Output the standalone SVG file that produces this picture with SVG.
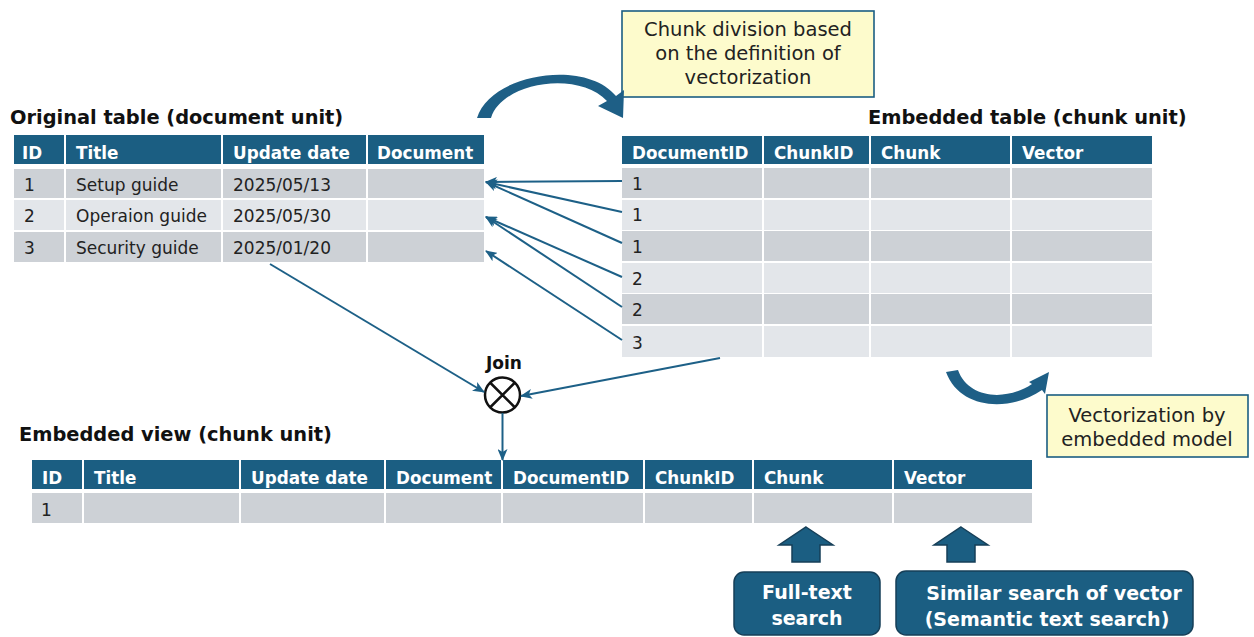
<svg xmlns="http://www.w3.org/2000/svg" width="1254" height="637" viewBox="0 0 1254 637">
<style>
text{font-family:"DejaVu Sans","Verdana",sans-serif}
.hd{fill:#1b5e82}
.dk{fill:#cdd1d6}
.lt{fill:#e3e6ea}
.ht{fill:#fff;font-weight:bold;font-size:16.8px}
.bt{fill:#222;font-size:17px}
.tt{fill:#111;font-weight:bold;font-size:19.4px}
.con{stroke:#1d6087;stroke-width:2;fill:none}
.note{fill:#fdfbcc;stroke:#1b5e82;stroke-width:1.6}
.nt{fill:#222;font-size:19.5px;text-anchor:middle}
.band{fill:#1e5f86}
.blk{fill:#1b5e82;stroke:#163f58;stroke-width:1.5}
.bw{fill:#fff;font-weight:bold;font-size:19px;text-anchor:middle}
</style>
<defs>
<marker id="ah" markerWidth="12" markerHeight="10" refX="11" refY="5" orient="auto" markerUnits="userSpaceOnUse">
<path d="M0,0 L12,5 L0,10 L3,5 Z" fill="#1d6087"/>
</marker>
</defs>

<g id="original-table">
<text class="tt" x="10" y="124">Original table (document unit)</text>
<rect class="hd" x="14" y="135" width="50" height="29"/>
<rect class="hd" x="66" y="135" width="155" height="29"/>
<rect class="hd" x="223" y="135" width="143" height="29"/>
<rect class="hd" x="368" y="135" width="116" height="29"/>
<text class="ht" x="22" y="159">ID</text>
<text class="ht" x="76" y="159">Title</text>
<text class="ht" x="233" y="159">Update date</text>
<text class="ht" x="377" y="159">Document</text>
<rect class="dk" x="14" y="169" width="50" height="29"/>
<rect class="dk" x="66" y="169" width="155" height="29"/>
<rect class="dk" x="223" y="169" width="143" height="29"/>
<rect class="dk" x="368" y="169" width="116" height="29"/>
<rect class="lt" x="14" y="200" width="50" height="30"/>
<rect class="lt" x="66" y="200" width="155" height="30"/>
<rect class="lt" x="223" y="200" width="143" height="30"/>
<rect class="lt" x="368" y="200" width="116" height="30"/>
<rect class="dk" x="14" y="232" width="50" height="30"/>
<rect class="dk" x="66" y="232" width="155" height="30"/>
<rect class="dk" x="223" y="232" width="143" height="30"/>
<rect class="dk" x="368" y="232" width="116" height="30"/>
<text class="bt" x="24" y="191">1</text>
<text class="bt" x="76" y="191">Setup guide</text>
<text class="bt" x="233" y="191">2025/05/13</text>
<text class="bt" x="24" y="222">2</text>
<text class="bt" x="76" y="222">Operaion guide</text>
<text class="bt" x="233" y="222">2025/05/30</text>
<text class="bt" x="24" y="254">3</text>
<text class="bt" x="76" y="254">Security guide</text>
<text class="bt" x="233" y="254">2025/01/20</text>
</g>

<g id="embedded-table">
<text class="tt" x="868" y="124">Embedded table (chunk unit)</text>
<rect class="hd" x="622" y="136" width="140" height="28"/>
<rect class="hd" x="764" y="136" width="105" height="28"/>
<rect class="hd" x="871" y="136" width="139" height="28"/>
<rect class="hd" x="1012" y="136" width="140" height="28"/>
<text class="ht" x="632" y="159">DocumentID</text>
<text class="ht" x="774" y="159">ChunkID</text>
<text class="ht" x="881" y="159">Chunk</text>
<text class="ht" x="1022" y="159">Vector</text>
<g class="dk">
<rect x="622" y="168" width="140" height="30"/><rect x="764" y="168" width="105" height="30"/><rect x="871" y="168" width="139" height="30"/><rect x="1012" y="168" width="140" height="30"/>
<rect x="622" y="231" width="140" height="30"/><rect x="764" y="231" width="105" height="30"/><rect x="871" y="231" width="139" height="30"/><rect x="1012" y="231" width="140" height="30"/>
<rect x="622" y="294" width="140" height="30"/><rect x="764" y="294" width="105" height="30"/><rect x="871" y="294" width="139" height="30"/><rect x="1012" y="294" width="140" height="30"/>
</g>
<g class="lt">
<rect x="622" y="200" width="140" height="30"/><rect x="764" y="200" width="105" height="30"/><rect x="871" y="200" width="139" height="30"/><rect x="1012" y="200" width="140" height="30"/>
<rect x="622" y="263" width="140" height="30"/><rect x="764" y="263" width="105" height="30"/><rect x="871" y="263" width="139" height="30"/><rect x="1012" y="263" width="140" height="30"/>
<rect x="622" y="326" width="140" height="31"/><rect x="764" y="326" width="105" height="31"/><rect x="871" y="326" width="139" height="31"/><rect x="1012" y="326" width="140" height="31"/>
</g>
<text class="bt" x="632" y="190">1</text>
<text class="bt" x="632" y="221">1</text>
<text class="bt" x="632" y="253">1</text>
<text class="bt" x="632" y="285">2</text>
<text class="bt" x="632" y="316">2</text>
<text class="bt" x="632" y="349">3</text>
</g>

<g id="embedded-view">
<text class="tt" x="19" y="441">Embedded view (chunk unit)</text>
<rect class="hd" x="32" y="460" width="50" height="29"/>
<rect class="hd" x="84" y="460" width="155" height="29"/>
<rect class="hd" x="241" y="460" width="143" height="29"/>
<rect class="hd" x="386" y="460" width="115" height="29"/>
<rect class="hd" x="503" y="460" width="140" height="29"/>
<rect class="hd" x="645" y="460" width="107" height="29"/>
<rect class="hd" x="754" y="460" width="138" height="29"/>
<rect class="hd" x="894" y="460" width="138" height="29"/>
<text class="ht" x="42" y="484">ID</text>
<text class="ht" x="94" y="484">Title</text>
<text class="ht" x="251" y="484">Update date</text>
<text class="ht" x="396" y="484">Document</text>
<text class="ht" x="513" y="484">DocumentID</text>
<text class="ht" x="655" y="484">ChunkID</text>
<text class="ht" x="764" y="484">Chunk</text>
<text class="ht" x="904" y="484">Vector</text>
<g class="dk">
<rect x="32" y="493" width="50" height="30"/><rect x="84" y="493" width="155" height="30"/><rect x="241" y="493" width="143" height="30"/><rect x="386" y="493" width="115" height="30"/>
<rect x="503" y="493" width="140" height="30"/><rect x="645" y="493" width="107" height="30"/><rect x="754" y="493" width="138" height="30"/><rect x="894" y="493" width="138" height="30"/>
</g>
<text class="bt" x="41" y="516">1</text>
</g>

<g id="join">
<text x="504" y="369" style="font-weight:bold;font-size:17px;text-anchor:middle;fill:#111">Join</text>
<circle cx="502.5" cy="395" r="17.5" fill="#fff" stroke="#111" stroke-width="2.5"/>
<path d="M490 382.5 L515 407.5 M515 382.5 L490 407.5" stroke="#111" stroke-width="2.5"/>
</g>

<g id="note-chunk">
<rect class="note" x="622" y="11" width="252" height="86"/>
<text class="nt" x="748" y="36">Chunk division based</text>
<text class="nt" x="748" y="60">on the definition of</text>
<text class="nt" x="748" y="84">vectorization</text>
</g>

<g id="note-vector">
<rect class="note" x="1047" y="395" width="201" height="62"/>
<text class="nt" x="1147" y="422">Vectorization by</text>
<text class="nt" x="1147" y="446">embedded model</text>
</g>

<g id="fulltext-search">
<path class="blk" d="M806 527 L833 545 L820 545 L820 562 L792 562 L792 545 L779 545 Z"/>
<rect class="blk" x="734" y="572" width="146" height="63" rx="10"/>
<text class="bw" x="807" y="599">Full-text</text>
<text class="bw" x="807" y="625">search</text>
</g>

<g id="semantic-search">
<path class="blk" d="M961 527 L988 545 L975 545 L975 562 L947 562 L947 545 L934 545 Z"/>
<rect class="blk" x="896" y="571" width="297" height="64" rx="10"/>
<text class="bw" x="1054" y="600">Similar search of vector</text>
<text class="bw" x="1047" y="626">(Semantic text search)</text>
</g>

<g id="connectors">
<line class="con" x1="622" y1="181" x2="486" y2="182" marker-end="url(#ah)"/>
<line class="con" x1="622" y1="212" x2="486" y2="182" marker-end="url(#ah)"/>
<line class="con" x1="622" y1="243" x2="486" y2="182" marker-end="url(#ah)"/>
<line class="con" x1="622" y1="277" x2="486" y2="217" marker-end="url(#ah)"/>
<line class="con" x1="622" y1="307" x2="486" y2="217" marker-end="url(#ah)"/>
<line class="con" x1="622" y1="340" x2="486" y2="251" marker-end="url(#ah)"/>
<line class="con" x1="270" y1="264" x2="484" y2="392" marker-end="url(#ah)"/>
<line class="con" x1="720" y1="358" x2="521" y2="396" marker-end="url(#ah)"/>
<line class="con" x1="502.5" y1="413" x2="502.5" y2="460" marker-end="url(#ah)"/>
<path class="band" d="M477 118 C490 74 585 58 616 96 L624 90 L623 118 L598 106 L607 101 C578 70 502 82 491 118 Z"/>
<path class="band" d="M946 372 C960 410 1010 412 1042 390 L1045 394 L1049 372 L1029 382 L1032 384 C1005 402 968 398 958 370 Z"/>
</g>
</svg>
